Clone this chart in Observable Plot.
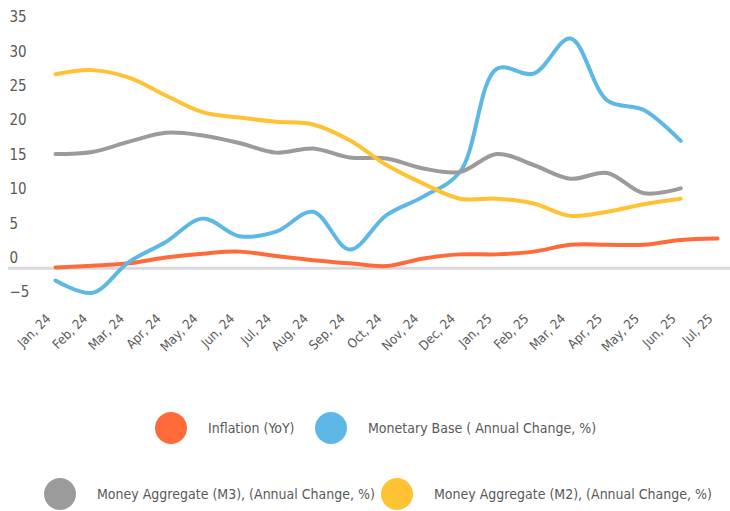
<!DOCTYPE html>
<html>
<head>
<meta charset="utf-8">
<script src="https://cdn.jsdelivr.net/npm/d3@7"></script>
<script src="https://cdn.jsdelivr.net/npm/@observablehq/plot@0.6"></script>
<style>
  body { margin: 0; background: #fff; font-family: "DejaVu Sans Condensed", "Liberation Sans Narrow", sans-serif; color: #595959; }
  #chart { width: 730px; height: 375px; }
  .legend { position: relative; width: 730px; height: 136px; font-size: 14px; color: #595959; }
  .item { position: absolute; display: flex; align-items: center; white-space: nowrap; }
  .dot { width: 32px; height: 32px; border-radius: 50%; margin-right: 21px; flex: none; }
</style>
</head>
<body>
<div id="chart"></div>
<div class="legend" id="legend"></div>
<script>
const months = ["Jan, 24","Feb, 24","Mar, 24","Apr, 24","May, 24","Jun, 24","Jul, 24","Aug, 24","Sep, 24","Oct, 24","Nov, 24","Dec, 24","Jan, 25","Feb, 25","Mar, 24","Apr, 25","May, 25","Jun, 25","Jul, 25"];
const inflation = [0.1,0.35,0.7,1.55,2.1,2.4,1.75,1.16,0.7,0.3,1.4,2.0,2.0,2.4,3.4,3.4,3.4,4.1,4.3];
const monetaryBase = [-1.8,-3.6,0.9,3.8,7.2,4.65,5.3,8.2,2.7,7.7,10.4,14.0,29.0,28.3,33.4,24.4,23.0,18.5];
const m3 = [16.6,16.9,18.4,19.7,19.3,18.2,16.8,17.4,16.1,15.95,14.5,14.0,16.6,15.0,13.0,13.85,10.9,11.6];
const m2 = [28.2,28.8,27.7,25.1,22.7,21.9,21.3,20.9,18.6,15.0,12.3,10.1,10.1,9.4,7.6,8.2,9.3,10.1];
const yTicks = [-5,0,5,10,15,20,25,30,35];
const seriesNames = ["Inflation (YoY)","Monetary Base ( Annual Change, %)","Money Aggregate (M3), (Annual Change, %)","Money Aggregate (M2), (Annual Change, %)"];
const seriesColors = ["#FF6A39","#5DB8E6","#9B9B9B","#FFC233"];

const seriesValues = [inflation, monetaryBase, m3, m2];
const rows = [];
seriesValues.forEach((vals, s) => vals.forEach((v, i) => rows.push({series: seriesNames[s], i, v})));

const font = '"DejaVu Sans Condensed", "Liberation Sans Narrow", sans-serif';
const chart = Plot.plot({
  width: 730,
  height: 375,
  marginLeft: 55,
  marginRight: 13,
  marginTop: 27,
  marginBottom: 73,
  style: {fontFamily: font, fontSize: "15px", color: "#595959", background: "#fff"},
  x: {type: "linear", domain: [0, months.length - 1]},
  y: {domain: [-5, 35]},
  color: {domain: seriesNames, range: seriesColors},
  marks: [
    Plot.ruleY([0], {stroke: "#d9d9d9", strokeWidth: 3, insetLeft: -47, insetRight: -13}),
    Plot.axisY(yTicks, {tickSize: 0, tickPadding: 2, textAnchor: "start", dx: -44, dy: -10, fill: "#595959", fontSize: 15, label: null}),
    Plot.axisX(d3.range(months.length), {tickSize: 0, tickPadding: 14, tickRotate: -45, tickFormat: i => months[i], fontSize: 13, fill: "#595959", label: null, dx: -7}),
    Plot.line(rows, {x: "i", y: "v", z: "series", stroke: "series", strokeWidth: 4, curve: "catmull-rom"})
  ]
});
document.getElementById("chart").appendChild(chart);

const legendPos = [[155, 53], [315, 53], [44, 119], [381, 119]];
const legend = document.getElementById("legend");
seriesNames.forEach((n, k) => {
  const it = document.createElement("div");
  it.className = "item";
  it.style.left = legendPos[k][0] + "px";
  it.style.top = (legendPos[k][1] - 16) + "px";
  const dot = document.createElement("div");
  dot.className = "dot";
  dot.style.background = seriesColors[k];
  const t = document.createElement("span");
  t.textContent = n;
  it.appendChild(dot); it.appendChild(t);
  legend.appendChild(it);
});
</script>
</body>
</html>
